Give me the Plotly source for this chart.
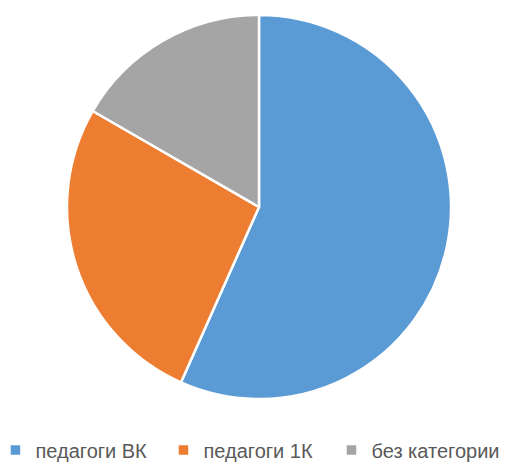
import plotly.graph_objects as go

categories = ["педагоги ВК", "педагоги 1К", "без категории"]
values = [17, 8, 5]
colors = ["#5B9BD5", "#ED7D31", "#A5A5A5"]

# the page body adds an 8px margin, so the figure is drawn 8px smaller and shifted
OFF = 8
W, H = 523 - OFF, 463 - OFF
cx, cy, r = 259 - OFF, 207 - OFF, 192

fig = go.Figure(go.Pie(
    labels=categories,
    values=values,
    sort=False,
    direction="clockwise",
    rotation=0,
    textinfo="none",
    marker=dict(colors=colors, line=dict(color="white", width=2.5)),
    domain=dict(x=[(cx - r) / W, (cx + r) / W], y=[1 - (cy + r) / H, 1 - (cy - r) / H]),
))

fig.update_layout(
    width=W, height=H,
    margin=dict(l=0, r=0, t=0, b=0, autoexpand=False),
    paper_bgcolor="white",
    showlegend=True,
    legend=dict(
        orientation="h",
        x=0.465, xanchor="center",
        y=1 - (450 - OFF) / H, yanchor="middle",
        font=dict(family="Liberation Sans", size=20, color="#595959"),
        entrywidth=123,
        itemwidth=30,
    ),
)

fig.write_html("out.html")
